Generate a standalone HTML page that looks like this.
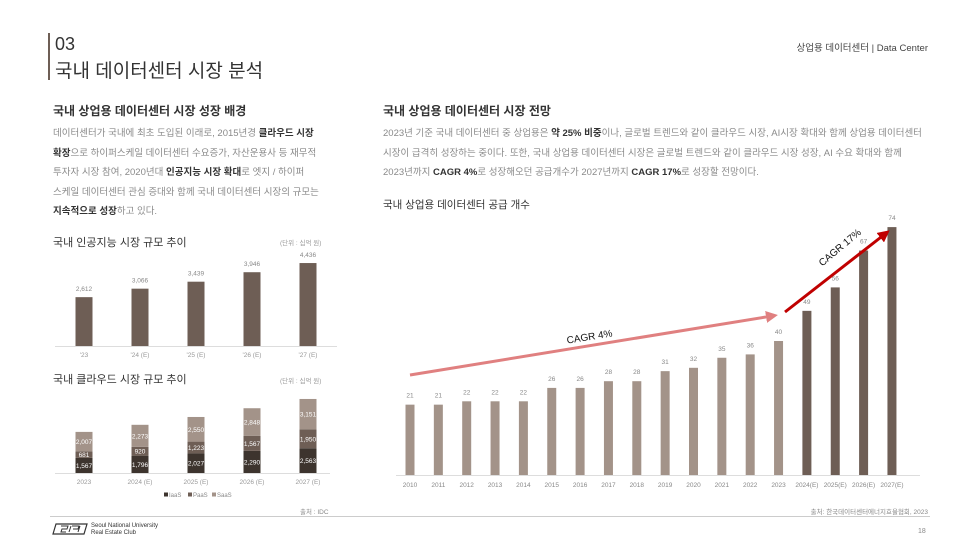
<!DOCTYPE html>
<html><head><meta charset="utf-8">
<style>
body{margin:0;width:980px;height:552px;background:#fff;font-family:"Liberation Sans","Noto Sans CJK KR",sans-serif;position:relative;overflow:hidden}
.a{position:absolute;white-space:nowrap}
.p{color:#8a8a8a;font-size:9.5px;line-height:19.5px}
.p b{color:#333;font-weight:bold}
svg text{font-family:"Liberation Sans","Noto Sans CJK KR",sans-serif}
</style></head><body>
<div class="a" style="left:48px;top:33px;width:2px;height:47px;background:#6e5e55"></div>
<div class="a" style="left:55px;top:34px;font-size:18px;color:#333">03</div>
<div class="a" style="left:55px;top:56px;font-size:19px;color:#333">국내 데이터센터 시장 분석</div>
<div class="a" style="right:52px;top:40px;font-size:9.5px;color:#444">상업용 데이터센터 | Data Center</div>

<div class="a" style="left:53px;top:102px;font-size:12px;font-weight:bold;color:#333">국내 상업용 데이터센터 시장 성장 배경</div>
<div class="a p" style="left:53px;top:124px">데이터센터가 국내에 최초 도입된 이래로, 2015년경 <b>클라우드 시장</b><br><b>확장</b>으로 하이퍼스케일 데이터센터 수요증가, 자산운용사 등 재무적<br>투자자 시장 참여, 2020년대 <b>인공지능 시장 확대</b>로 엣지 / 하이퍼<br>스케일 데이터센터 관심 증대와 함께 국내 데이터센터 시장의 규모는<br><b>지속적으로 성장</b>하고 있다.</div>

<div class="a" style="left:383px;top:102px;font-size:12px;font-weight:bold;color:#333">국내 상업용 데이터센터 시장 전망</div>
<div class="a p" style="left:383px;top:124px">2023년 기준 국내 데이터센터 중 상업용은 <b>약 25% 비중</b>이나, 글로벌 트렌드와 같이 클라우드 시장, AI시장 확대와 함께 상업용 데이터센터<br>시장이 급격히 성장하는 중이다. 또한, 국내 상업용 데이터센터 시장은 글로벌 트렌드와 같이 클라우드 시장 성장, AI 수요 확대와 함께<br>2023년까지 <b>CAGR 4%</b>로 성장해오던 공급개수가 2027년까지 <b>CAGR 17%</b>로 성장할 전망이다.</div>
<div class="a" style="left:383px;top:197px;font-size:10.5px;color:#333">국내 상업용 데이터센터 공급 개수</div>

<div class="a" style="left:53px;top:234px;font-size:11px;color:#333">국내 인공지능 시장 규모 추이</div>
<div class="a" style="left:280px;top:237px;font-size:6.5px;color:#999">(단위 : 십억 원)</div>
<div class="a" style="left:53px;top:371px;font-size:11px;color:#333">국내 클라우드 시장 규모 추이</div>
<div class="a" style="left:280px;top:375px;font-size:6.5px;color:#999">(단위 : 십억 원)</div>

<svg id="c" class="a" style="left:0;top:0" width="980" height="552"></svg>

<div class="a" style="left:300px;top:506px;font-size:6.5px;color:#888">출처 : IDC</div>
<div class="a" style="right:52px;top:506px;font-size:6.5px;color:#888">출처: 한국데이터센터에너지효율협회, 2023</div>
<div class="a" style="left:50px;top:516px;width:880px;height:1px;background:#ccc"></div>
<svg class="a" style="left:52px;top:523px" width="36" height="12"><path d="M4 1H35L32 11H1Z" fill="none" stroke="#333" stroke-width="1.2"/><path d="M9 3H16L15 6H10L9 9H14M19 3L17 9M20 3H27L26 6H21M28 3L26 9" fill="none" stroke="#333" stroke-width="1"/></svg>
<div class="a" style="left:91px;top:523px;font-size:6px;line-height:7px;color:#333">Seoul National University<br>Real Estate Club</div>
<div class="a" style="left:918px;top:528px;font-size:7px;color:#888">18</div>

<script>
const aiCats=["'23","'24 (E)","'25 (E)","'26 (E)","'27 (E)"];
const aiVals=[2612,3066,3439,3946,4436];
const cloudCats=["2023","2024 (E)","2025 (E)","2026 (E)","2027 (E)"];
const iaas=[1567,1796,2027,2290,2563];
const paas=[681,920,1223,1567,1950];
const saas=[2007,2273,2550,2848,3151];
const dcCats=["2010","2011","2012","2013","2014","2015","2016","2017","2018","2019","2020","2021","2022","2023","2024(E)","2025(E)","2026(E)","2027(E)"];
const dcVals=[21,21,22,22,22,26,26,28,28,31,32,35,36,40,49,56,67,74];

const svg=document.getElementById('c');
const NS='http://www.w3.org/2000/svg';
function mk(t,a,txt){const e=document.createElementNS(NS,t);for(const k in a)e.setAttribute(k,a[k]);if(txt!==undefined)e.textContent=txt;svg.appendChild(e);return e;}
const fmt=v=>v.toLocaleString('en-US');
const smX=i=>84+i*56;

// AI chart
const aiY=v=>346-v*0.0187;
mk('line',{x1:55,x2:337,y1:346.5,y2:346.5,stroke:'#ddd'});
aiVals.forEach((v,i)=>{
  let r=mk('rect',{x:smX(i)-8.5,y:aiY(v),width:17,height:346-aiY(v),fill:'#6e5e55'});
  
  let t=mk('text',{x:smX(i),y:aiY(v)-6,'font-size':6.5,fill:'#888','text-anchor':'middle'},fmt(v));
  
  let c=mk('text',{x:smX(i),y:357,'font-size':6.5,fill:'#999','text-anchor':'middle'},aiCats[i]);
  
});

// Cloud chart
const cs=0.00966,cb=473;
mk('line',{x1:55,x2:330,y1:473.5,y2:473.5,stroke:'#ddd'});
const ser=[[iaas,'#3d342e'],[paas,'#6e5e55'],[saas,'#a39389']];
cloudCats.forEach((c,i)=>{
  let base=cb;
  ser.forEach(([arr,col])=>{
    const h=arr[i]*cs;
    let r=mk('rect',{x:smX(i)-8.5,y:base-h,width:17,height:h,fill:col});
    
    let t=mk('text',{x:smX(i),y:base-h/2+2.5,'font-size':6.5,fill:'#fff','text-anchor':'middle'},fmt(arr[i]));
    
    base-=h;
  });
  let l=mk('text',{x:smX(i),y:484,'font-size':6.5,fill:'#999','text-anchor':'middle'},c);
  
});
[['IaaS','#3d342e',164],['PaaS','#6e5e55',188],['SaaS','#a39389',212]].forEach(([n,col,x])=>{
  let r=mk('rect',{x:x,y:492.5,width:4,height:4,fill:col});
  
  let t=mk('text',{x:x+5,y:497,'font-size':6,fill:'#888'},n);
  
});

// Datacenter chart
const dX=i=>410+i*28.35, dY=v=>475-v*3.35;
mk('line',{x1:396,x2:920,y1:475.5,y2:475.5,stroke:'#ddd'});
dcVals.forEach((v,i)=>{
  let r=mk('rect',{x:dX(i)-4.5,y:dY(v),width:9,height:475-dY(v),fill:i>=14?'#6e5e55':'#a39389'});
  
  let t=mk('text',{x:dX(i),y:dY(v)-7,'font-size':6.5,fill:'#888','text-anchor':'middle'},v);
  
  let c=mk('text',{x:dX(i),y:487,'font-size':6.5,fill:'#888','text-anchor':'middle'},dcCats[i]);
  
});
// CAGR arrows
mk('defs',{}).innerHTML='<marker id="m1" markerWidth="4" markerHeight="4" refX="2" refY="2" orient="auto"><path d="M0,0L4,2L0,4Z" fill="#e08080"/></marker><marker id="m2" markerWidth="4" markerHeight="4" refX="2" refY="2" orient="auto"><path d="M0,0L4,2L0,4Z" fill="#c00000"/></marker>';
mk('line',{x1:410,y1:375,x2:772,y2:316,stroke:'#e08080','stroke-width':3,'marker-end':'url(#m1)'});
mk('text',{x:590,y:340,'font-size':10,fill:'#111','text-anchor':'middle',transform:'rotate(-9 590 340)'},'CAGR 4%');
mk('line',{x1:785,y1:312,x2:885,y2:234,stroke:'#c00000','stroke-width':3,'marker-end':'url(#m2)'});
mk('text',{x:842,y:250,'font-size':10,fill:'#111','text-anchor':'middle',transform:'rotate(-40 842 250)'},'CAGR 17%');
</script>
</body></html>
